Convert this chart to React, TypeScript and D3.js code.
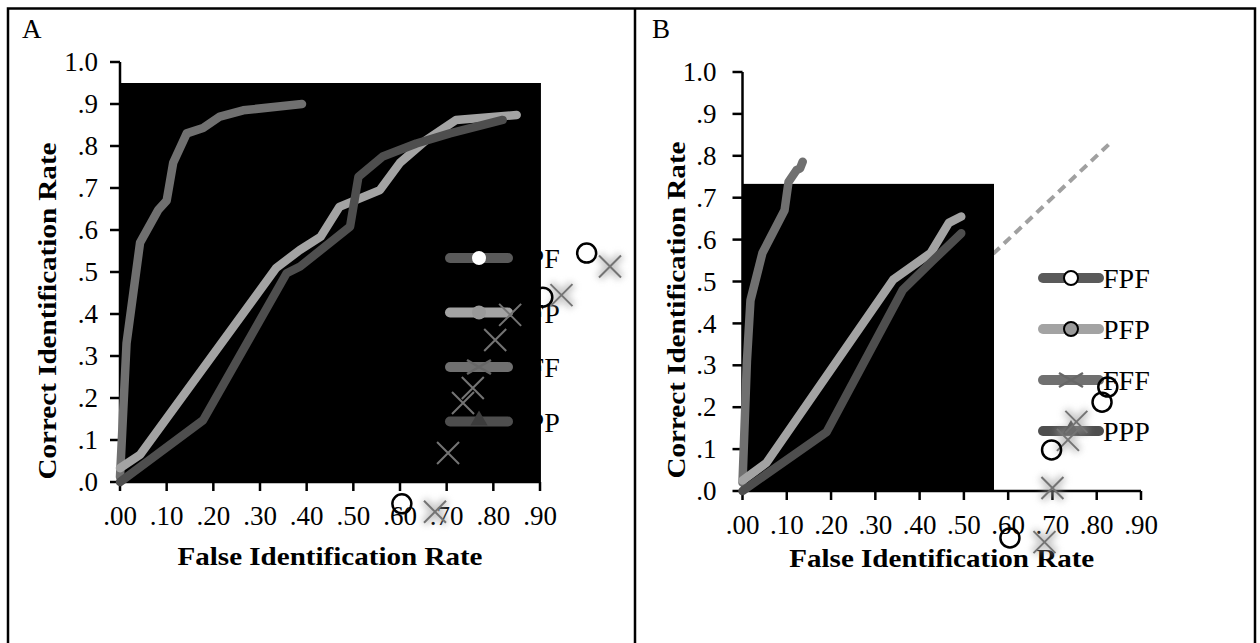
import React, { useRef, useEffect } from "react";
import * as d3 from "d3";

// series shown in both panels
const seriesNames = ["FPF", "PFP", "FFF", "PPP"];
const seriesColors = ["#5a5a5a", "#a3a3a3", "#707070", "#4e4e4e"];

const xTickValues = [0, 0.1, 0.2, 0.3, 0.4, 0.5, 0.6, 0.7, 0.8, 0.9];
const xTickLabels = [".00", ".10", ".20", ".30", ".40", ".50", ".60", ".70", ".80", ".90"];
const yTickValues = [0, 0.1, 0.2, 0.3, 0.4, 0.5, 0.6, 0.7, 0.8, 0.9, 1.0];
const yTickLabels = [".0", ".1", ".2", ".3", ".4", ".5", ".6", ".7", ".8", ".9", "1.0"];

// Panel A curves (false id rate, correct id rate)
const aFffX = [0, 0.014, 0.043, 0.082, 0.1, 0.114, 0.143, 0.178, 0.214, 0.264, 0.39];
const aFffY = [0.012, 0.33, 0.57, 0.648, 0.67, 0.76, 0.83, 0.843, 0.87, 0.885, 0.9];
const aPfpX = [0, 0.043, 0.335, 0.385, 0.43, 0.47, 0.557, 0.6, 0.657, 0.72, 0.85];
const aPfpY = [0.033, 0.065, 0.51, 0.552, 0.584, 0.655, 0.695, 0.76, 0.815, 0.862, 0.874];
const aPppX = [0, 0.178, 0.357, 0.386, 0.493, 0.511, 0.563, 0.635, 0.707, 0.82];
const aPppY = [0, 0.147, 0.497, 0.513, 0.608, 0.727, 0.775, 0.806, 0.83, 0.862];

// Panel A stray markers
const aCircleX = [1.0, 0.906, 0.604];
const aCircleY = [0.545, 0.44, -0.052];
const aCrossX = [1.05, 0.946, 0.836, 0.804, 0.756, 0.735, 0.703, 0.675];
const aCrossY = [0.513, 0.445, 0.398, 0.338, 0.224, 0.188, 0.069, -0.071];

// Panel B curves
const bFffX = [0, 0.01, 0.018, 0.045, 0.095, 0.104, 0.122, 0.13, 0.136];
const bFffY = [0.02, 0.31, 0.455, 0.568, 0.67, 0.738, 0.766, 0.77, 0.786];
const bPfpX = [0, 0.054, 0.34, 0.425, 0.466, 0.494];
const bPfpY = [0.025, 0.067, 0.504, 0.568, 0.64, 0.655];
const bPppX = [0, 0.19, 0.362, 0.43, 0.494];
const bPppY = [0, 0.141, 0.48, 0.55, 0.615];

// Panel B stray markers
const bCircleX = [0.825, 0.812, 0.698, 0.604];
const bCircleY = [0.248, 0.212, 0.098, -0.112];
const bCrossX = [0.754, 0.735, 0.7, 0.682];
const bCrossY = [0.165, 0.122, 0.007, -0.122];

// chance line and the black block covering each plot
const aChanceX = [0, 0.9];
const aChanceY = [0, 0.9];
const bChanceX = [0, 0.83];
const bChanceY = [0, 0.83];
const aBlock = [0.902, 0.95];
const bBlock = [0.568, 0.733];

const serif = "'Liberation Serif', 'Times New Roman', serif";
const zip = (xs, ys) => xs.map((v, i) => [v, ys[i]]);

function drawPanel(svg, cfg) {
  const g = svg.append("g");
  const x = d3.scaleLinear().domain([0, 0.9]).range([cfg.x0, cfg.x1]);
  const y = d3.scaleLinear().domain([0, 1]).range([cfg.y0, cfg.y1]);
  const line = d3
    .line()
    .x((d) => x(d[0]))
    .y((d) => y(d[1]));

  // dashed chance line, mostly hidden under the block
  g.append("path")
    .attr("d", line(cfg.chance))
    .attr("fill", "none")
    .attr("stroke", "#a0a0a0")
    .attr("stroke-width", 4)
    .attr("stroke-dasharray", "9 6");

  g.append("rect")
    .attr("x", x(0))
    .attr("y", y(cfg.block[1]))
    .attr("width", x(cfg.block[0]) - x(0))
    .attr("height", y(0) - y(cfg.block[1]))
    .attr("fill", "#000");

  // axes
  const ax = g.append("g").attr("stroke", "#000").attr("stroke-width", 2.5);
  ax.append("line").attr("x1", x(0)).attr("x2", x(0)).attr("y1", y(0) + 1).attr("y2", y(1));
  ax.append("line").attr("x1", x(0)).attr("x2", x(0.9)).attr("y1", y(0)).attr("y2", y(0));
  ax.selectAll(".yt")
    .data(yTickValues)
    .join("line")
    .attr("x1", x(0) - 10)
    .attr("x2", x(0))
    .attr("y1", (d) => y(d))
    .attr("y2", (d) => y(d));
  ax.selectAll(".xt")
    .data(xTickValues)
    .join("line")
    .attr("x1", (d) => x(d))
    .attr("x2", (d) => x(d))
    .attr("y1", y(0))
    .attr("y2", y(0) + 9);

  g.selectAll(".ylab")
    .data(yTickValues)
    .join("text")
    .attr("x", x(0) - cfg.ylabGap)
    .attr("y", (d) => y(d))
    .attr("dy", "0.34em")
    .attr("text-anchor", "end")
    .attr("font-family", serif)
    .attr("font-size", 27)
    .text((d, i) => yTickLabels[i]);
  g.selectAll(".xlab")
    .data(xTickValues)
    .join("text")
    .attr("x", (d) => x(d))
    .attr("y", y(0) + 43)
    .attr("text-anchor", "middle")
    .attr("font-family", serif)
    .attr("font-size", 27)
    .text((d, i) => xTickLabels[i]);

  // titles
  g.append("text")
    .attr("x", (x(0) + x(0.9)) / 2)
    .attr("y", cfg.xTitleY)
    .attr("text-anchor", "middle")
    .attr("font-family", serif)
    .attr("font-weight", "bold")
    .attr("font-size", 26)
    .attr("textLength", 305)
    .attr("lengthAdjust", "spacingAndGlyphs")
    .text("False Identification Rate");
  g.append("text")
    .attr("transform", `translate(${cfg.yTitleX},${cfg.yTitleY}) rotate(-90)`)
    .attr("text-anchor", "middle")
    .attr("font-family", serif)
    .attr("font-weight", "bold")
    .attr("font-size", 26)
    .attr("textLength", 337)
    .attr("lengthAdjust", "spacingAndGlyphs")
    .text("Correct Identification Rate");
  g.append("text")
    .attr("x", cfg.labelX)
    .attr("y", 38)
    .attr("font-family", serif)
    .attr("font-size", 27)
    .text(cfg.label);

  // curves
  g.selectAll(".curve")
    .data(cfg.curves)
    .join("path")
    .attr("d", (d) => line(d.pts))
    .attr("fill", "none")
    .attr("stroke", (d) => seriesColors[d.s])
    .attr("stroke-width", 8.5)
    .attr("stroke-linecap", "round")
    .attr("stroke-linejoin", "round");

  // legend
  const lg = g.append("g");
  seriesNames.forEach((name, i) => {
    const ly = cfg.legY + i * cfg.legStep;
    const mx = (cfg.legX0 + cfg.legX1) / 2;
    lg.append("line")
      .attr("x1", cfg.legX0)
      .attr("x2", cfg.legX1)
      .attr("y1", ly)
      .attr("y2", ly)
      .attr("stroke", seriesColors[i])
      .attr("stroke-width", 10)
      .attr("stroke-linecap", "round");
    if (i < 2) {
      lg.append("circle")
        .attr("cx", mx)
        .attr("cy", ly)
        .attr("r", 7)
        .attr("fill", i === 0 ? "#fff" : "#9a9a9a")
        .attr("stroke", cfg.legStroke)
        .attr("stroke-width", 2);
    } else if (i === 2) {
      lg.append("path")
        .attr("d", `M${mx - 12},${ly - 7}L${mx + 12},${ly + 7}M${mx - 12},${ly + 7}L${mx + 12},${ly - 7}`)
        .attr("stroke", "#676767")
        .attr("stroke-width", 2.5);
    } else {
      lg.append("path")
        .attr("transform", `translate(${mx},${ly - 1})`)
        .attr("d", d3.symbol(d3.symbolTriangle, 130)())
        .attr("fill", "#3c3c3c");
    }
    lg.append("text")
      .attr("x", cfg.legX1 + cfg.legTextGap)
      .attr("y", ly + 10)
      .attr("font-family", serif)
      .attr("font-size", 28)
      .text(name);
  });

  // stray markers
  const inBlock = (p) => p[0] <= cfg.block[0] && p[1] >= 0 && p[1] <= cfg.block[1];
  const crossPath = (p, r) => {
    const cx = x(p[0]);
    const cy = y(p[1]);
    return `M${cx - r},${cy - r}L${cx + r},${cy + r}M${cx - r},${cy + r}L${cx + r},${cy - r}`;
  };
  g.selectAll(".halo")
    .data(cfg.crosses.filter((p) => !inBlock(p)))
    .join("path")
    .attr("d", (p) => crossPath(p, 11))
    .attr("stroke", "#9a9a9a")
    .attr("stroke-width", 8)
    .attr("opacity", 0.55)
    .attr("filter", "url(#halo)");
  g.selectAll(".cross")
    .data(cfg.crosses)
    .join("path")
    .attr("d", (p) => crossPath(p, 11))
    .attr("stroke", "#747474")
    .attr("stroke-width", 2);
  g.selectAll(".ring")
    .data(cfg.circles)
    .join("circle")
    .attr("cx", (p) => x(p[0]))
    .attr("cy", (p) => y(p[1]))
    .attr("r", 9.5)
    .attr("fill", "none")
    .attr("stroke", "#000")
    .attr("stroke-width", 2.5);
}

const App = () => {
  const svgRef = useRef();

  useEffect(() => {
    const svg = d3.select(svgRef.current);
    svg.selectAll("*").remove();

    svg.append("defs")
      .append("filter")
      .attr("id", "halo")
      .attr("x", "-50%")
      .attr("y", "-50%")
      .attr("width", "200%")
      .attr("height", "200%")
      .append("feGaussianBlur")
      .attr("stdDeviation", 3.5);

    svg.append("rect").attr("width", 1260).attr("height", 643).attr("fill", "#fff");

    // outer frame
    const frame = svg.append("g").attr("stroke", "#000").attr("stroke-width", 2.5).attr("fill", "none");
    frame.append("path").attr("d", "M8,643V8.5H1255V643");
    frame.append("path").attr("d", "M635,8.5V643");

    drawPanel(svg, {
      label: "A",
      labelX: 22,
      x0: 120,
      x1: 540,
      y0: 482,
      y1: 62,
      ylabGap: 22,
      xTitleY: 565,
      yTitleX: 56,
      yTitleY: 311,
      chance: zip(aChanceX, aChanceY),
      block: aBlock,
      curves: [
        { s: 2, pts: zip(aFffX, aFffY) },
        { s: 1, pts: zip(aPfpX, aPfpY) },
        { s: 3, pts: zip(aPppX, aPppY) },
      ],
      circles: zip(aCircleX, aCircleY),
      crosses: zip(aCrossX, aCrossY),
      legX0: 450,
      legX1: 508,
      legY: 258,
      legStep: 54.5,
      legTextGap: 5,
      legStroke: "none",
    });

    drawPanel(svg, {
      label: "B",
      labelX: 652,
      x0: 742.5,
      x1: 1141,
      y0: 491,
      y1: 72,
      ylabGap: 26,
      xTitleY: 567,
      yTitleX: 685,
      yTitleY: 310,
      chance: zip(bChanceX, bChanceY),
      block: bBlock,
      curves: [
        { s: 2, pts: zip(bFffX, bFffY) },
        { s: 1, pts: zip(bPfpX, bPfpY) },
        { s: 3, pts: zip(bPppX, bPppY) },
      ],
      circles: zip(bCircleX, bCircleY),
      crosses: zip(bCrossX, bCrossY),
      legX0: 1043,
      legX1: 1099,
      legY: 278,
      legStep: 51,
      legTextGap: 4,
      legStroke: "#000",
    });
  }, []);

  return (
    <svg
      ref={svgRef}
      width={1260}
      height={643}
      style={{ position: "absolute", left: 0, top: 0, display: "block" }}
    ></svg>
  );
};

export default App;
